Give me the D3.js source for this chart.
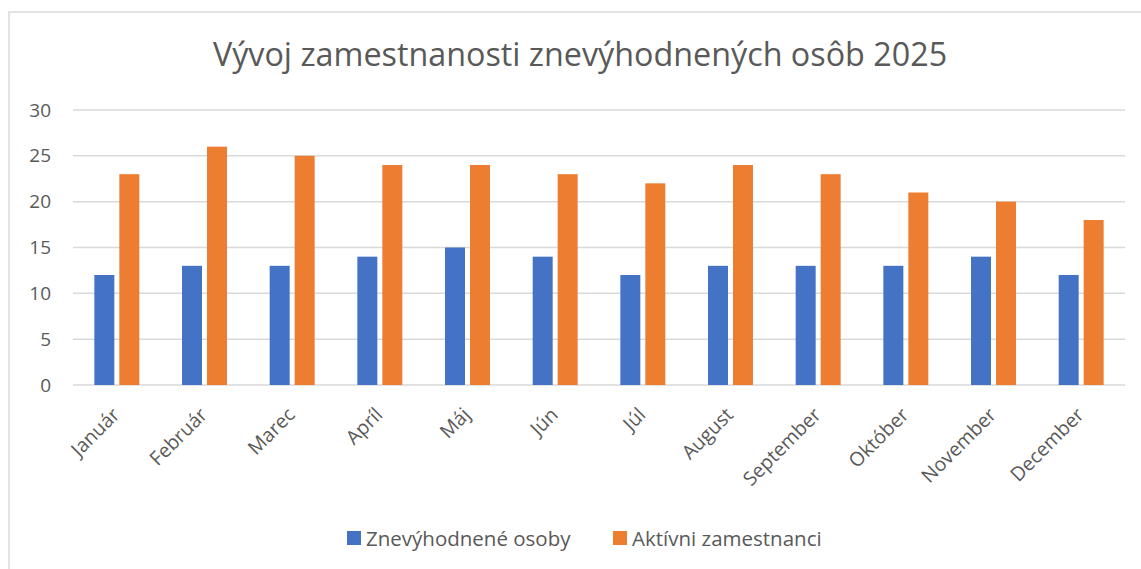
<!DOCTYPE html>
<html>
<head>
<meta charset="utf-8">
<script src="https://cdn.jsdelivr.net/npm/d3@7"></script>
<style>
  body { margin: 0; background: #fff; }
  svg text { font-family: "Open Sans", "Liberation Sans", sans-serif; fill: #595959; }
</style>
</head>
<body>
<div id="chart"></div>
<script>
// Chart data
const months = ["Január", "Február", "Marec", "Apríl", "Máj", "Jún", "Júl", "August", "September", "Október", "November", "December"];
const seriesNames = ["Znevýhodnené osoby", "Aktívni zamestnanci"];
const disadvantaged = [12, 13, 13, 14, 15, 14, 12, 13, 13, 13, 14, 12];
const activeEmployees = [23, 26, 25, 24, 24, 23, 22, 24, 23, 21, 20, 18];
const yTicks = [0, 5, 10, 15, 20, 25, 30];
const colors = ["#4472C4", "#ED7D31"];

const width = 1141, height = 569;

const svg = d3.select("#chart")
    .append("svg")
    .attr("width", width)
    .attr("height", height);

// chart frame
svg.append("rect")
    .attr("x", 9)
    .attr("y", 12)
    .attr("width", width + 10)
    .attr("height", height + 10)
    .attr("fill", "none")
    .attr("stroke", "#D9D9D9")
    .attr("stroke-width", 1.5);

// title
svg.append("text")
    .attr("x", 580)
    .attr("y", 66)
    .attr("text-anchor", "middle")
    .style("font-size", "32.3px")
    .text("Vývoj zamestnanosti znevýhodnených osôb 2025");

// scales
const xScale = d3.scaleBand()
    .domain(months)
    .range([73, 1125])
    .paddingInner(0.487)
    .paddingOuter(0.2435);

const xSub = d3.scaleBand()
    .domain(seriesNames)
    .range([0, xScale.bandwidth()])
    .paddingInner(0.2);

const yScale = d3.scaleLinear()
    .domain([0, 30])
    .range([385, 110]);

// gridlines
svg.append("g")
    .selectAll("line")
    .data(yTicks)
    .join("line")
    .attr("x1", 73)
    .attr("x2", 1125)
    .attr("y1", d => yScale(d))
    .attr("y2", d => yScale(d))
    .attr("stroke", "#D9D9D9")
    .attr("stroke-width", 1.5);

// y axis labels
const yAxis = svg.append("g")
    .attr("transform", "translate(51,0)")
    .call(d3.axisLeft(yScale).tickValues(yTicks).tickSize(0).tickPadding(0));
yAxis.select(".domain").remove();
yAxis.selectAll("text")
    .style("font-size", "19px")
    .attr("fill", "#595959")
    .style("font-family", "\"Open Sans\", sans-serif");

// bars
const rows = months.map((m, i) => ({ month: m, values: [disadvantaged[i], activeEmployees[i]] }));

const groups = svg.append("g")
    .selectAll("g")
    .data(rows)
    .join("g")
    .attr("transform", d => `translate(${xScale(d.month)},0)`);

groups.selectAll("rect")
    .data(d => d.values.map((v, j) => ({ name: seriesNames[j], value: v, idx: j })))
    .join("rect")
    .attr("x", d => xSub(d.name))
    .attr("width", xSub.bandwidth())
    .attr("y", d => yScale(d.value))
    .attr("height", d => yScale(0) - yScale(d.value))
    .attr("fill", d => colors[d.idx]);

// x axis labels, rotated
const xAxis = svg.append("g")
    .attr("transform", "translate(0,385)")
    .call(d3.axisBottom(xScale).tickSize(0).tickPadding(0));
xAxis.select(".domain").remove();
xAxis.selectAll("text")
    .attr("fill", "#595959")
    .style("font-size", "19.5px")
    .style("font-family", "\"Open Sans\", sans-serif")
    .attr("text-anchor", "end")
    .attr("dy", 0)
    .attr("transform", "translate(4,31) rotate(-45)");

// legend
const legendItems = [
    { name: seriesNames[0], color: colors[0], x: 347 },
    { name: seriesNames[1], color: colors[1], x: 613 }
];
const legend = svg.append("g");
legendItems.forEach(item => {
    legend.append("rect")
        .attr("x", item.x)
        .attr("y", 531)
        .attr("width", 14)
        .attr("height", 14)
        .attr("fill", item.color);
    legend.append("text")
        .attr("x", item.x + 19)
        .attr("y", 546)
        .style("font-size", "20.5px")
        .text(item.name);
});
</script>
</body>
</html>
